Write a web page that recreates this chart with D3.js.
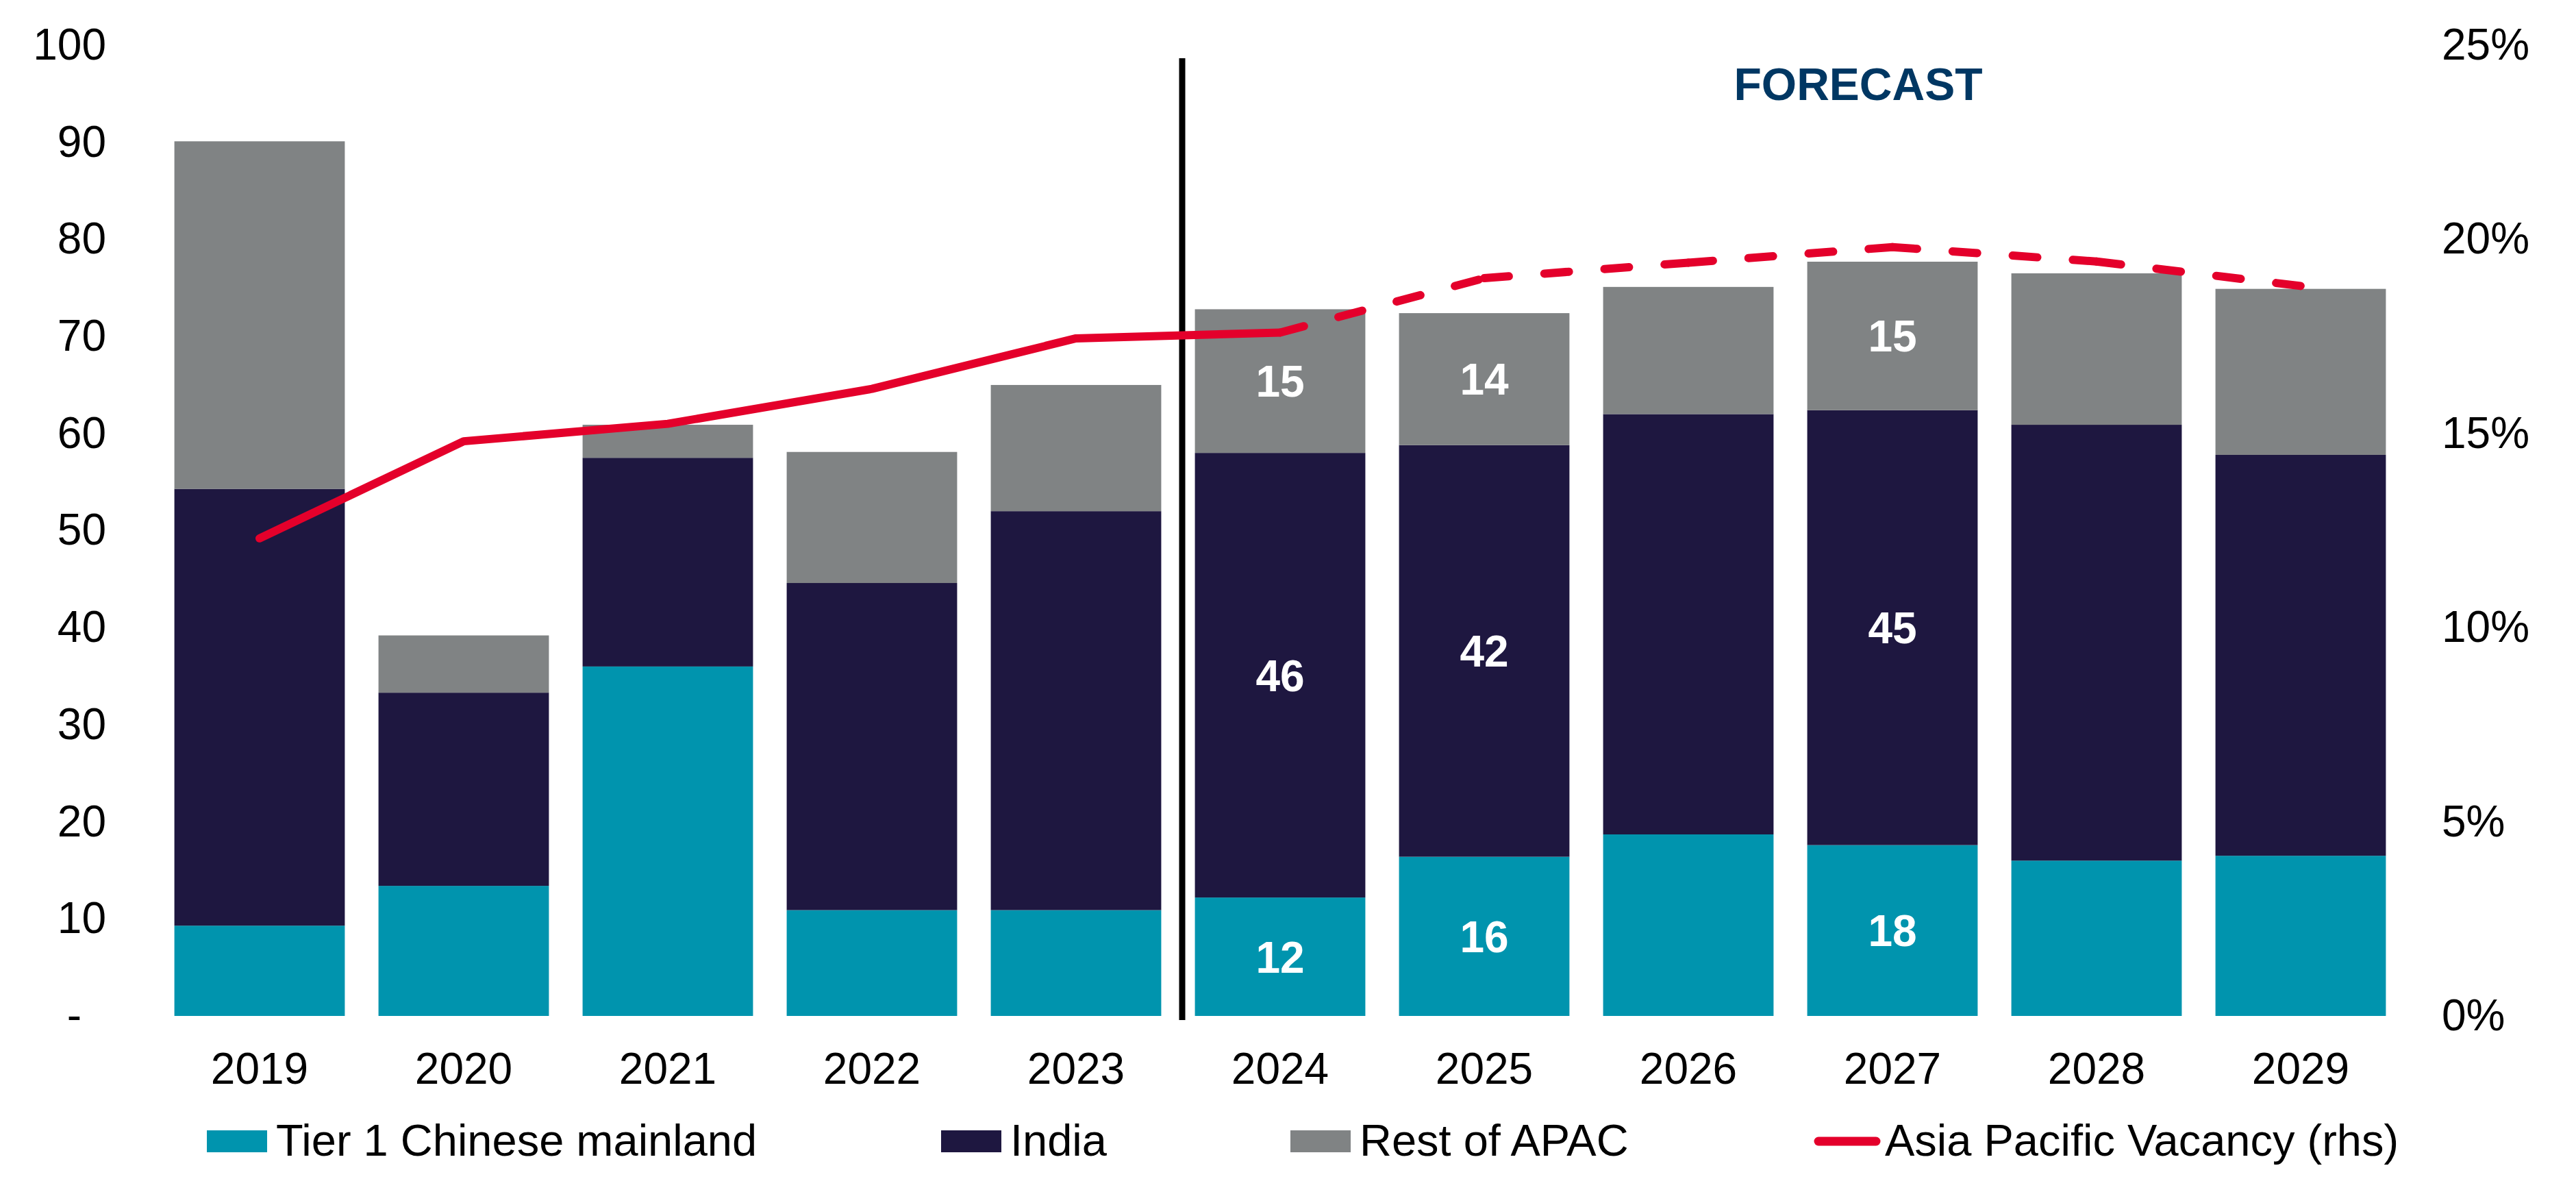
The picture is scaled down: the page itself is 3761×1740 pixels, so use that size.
<!DOCTYPE html>
<html>
<head>
<meta charset="utf-8">
<script src="https://cdn.jsdelivr.net/npm/d3@7"></script>
<style>
  html, body { margin: 0; padding: 0; background: #ffffff; }
  svg { display: block; font-family: "Liberation Sans", Arial, sans-serif; }
</style>
</head>
<body>
<svg id="chart" width="3761" height="1740"></svg>
<script>
// ---- data ----
const years = ["2019","2020","2021","2022","2023","2024","2025","2026","2027","2028","2029"];
const tier1China = [9.3, 13.4, 36.0, 10.9, 10.9, 12.2, 16.4, 18.7, 17.6, 16.0, 16.5];
const india      = [45.0, 19.9, 21.5, 33.7, 41.1, 45.8, 42.4, 43.3, 44.8, 44.9, 41.3];
const restAPAC   = [35.8, 5.9, 3.4, 13.5, 13.0, 14.8, 13.6, 13.1, 15.3, 15.6, 17.1];
const vacancy    = [0.123, 0.148, 0.1525, 0.1615, 0.1745, 0.176, 0.190, 0.194, 0.198, 0.1943, 0.188];
const labeledYears = ["2024", "2025", "2027"];
const forecastStart = "2024";
const leftTicks = [0,10,20,30,40,50,60,70,80,90,100];
const rightTicks = [0,0.05,0.10,0.15,0.20,0.25];
const seriesNames = ["Tier 1 Chinese mainland", "India", "Rest of APAC", "Asia Pacific Vacancy (rhs)"];

// ---- layout ----
const colors = { t1: "#0094AE", india: "#1E1740", rest: "#808384", line: "#E4002B", forecast: "#003763" };
const plotLeft = 230, plotRight = 3508, plotTop = 66, plotBottom = 1483;
const fontSize = 64;
const lineWidth = 12;

const svg = d3.select("#chart");

const x = d3.scaleBand().domain(years).range([plotLeft, plotRight]).paddingInner(0.165).paddingOuter(0.0825);
const y = d3.scaleLinear().domain([0, 100]).range([plotBottom, plotTop]);
const y2 = d3.scaleLinear().domain([0, 0.25]).range([plotBottom, plotTop]);

// stacked data
const rows = years.map((yr, i) => ({ year: yr, t1: tier1China[i], india: india[i], rest: restAPAC[i] }));
const keys = ["t1", "india", "rest"];
const stack = d3.stack().keys(keys)(rows);

const gBars = svg.append("g");
stack.forEach(layer => {
  gBars.append("g").attr("fill", colors[layer.key])
    .selectAll("rect").data(layer).join("rect")
    .attr("x", d => x(d.data.year))
    .attr("width", x.bandwidth())
    .attr("y", d => y(d[1]))
    .attr("height", d => y(d[0]) - y(d[1]));
});

// data labels
const gLab = svg.append("g");
stack.forEach(layer => {
  gLab.selectAll(null).data(layer.filter(d => labeledYears.includes(d.data.year))).join("text")
    .attr("x", d => x(d.data.year) + x.bandwidth() / 2)
    .attr("y", d => (y(d[0]) + y(d[1])) / 2)
    .attr("dy", "0.36em")
    .attr("text-anchor", "middle")
    .attr("fill", "#ffffff")
    .attr("font-weight", "bold")
    .attr("font-size", fontSize)
    .text(d => Math.round(d[1] - d[0]));
});

// vertical forecast divider
const iF = years.indexOf(forecastStart);
const divX = (x(years[iF - 1]) + x.bandwidth() + x(years[iF])) / 2 + 6;
svg.append("line")
  .attr("x1", divX).attr("x2", divX)
  .attr("y1", 85).attr("y2", 1489)
  .attr("stroke", "#000").attr("stroke-width", 9);

// FORECAST label
svg.append("text")
  .attr("x", 2713).attr("y", 146)
  .attr("text-anchor", "middle")
  .attr("font-weight", "bold")
  .attr("font-size", 66)
  .attr("fill", colors.forecast)
  .text("FORECAST");

// vacancy line
const pts = years.map((yr, i) => ({ year: yr, v: vacancy[i] }));
const line = d3.line().x(d => x(d.year) + x.bandwidth() / 2).y(d => y2(d.v));
svg.append("path")
  .datum(pts.slice(0, iF + 1))
  .attr("d", line)
  .attr("fill", "none").attr("stroke", colors.line)
  .attr("stroke-width", lineWidth).attr("stroke-linecap", "round").attr("stroke-linejoin", "round");
// dashed forecast: dash pattern restarts at each vertex
const gDash = svg.append("g");
for (let i = iF; i < pts.length - 1; i++) {
  gDash.append("path")
    .datum([pts[i], pts[i + 1]])
    .attr("d", line)
    .attr("fill", "none").attr("stroke", colors.line)
    .attr("stroke-width", lineWidth).attr("stroke-linecap", "round")
    .attr("stroke-dasharray", "36,52");
}

// left axis
const axL = svg.append("g")
  .attr("transform", `translate(${plotLeft},0)`)
  .call(d3.axisLeft(y).tickValues(leftTicks).tickSize(0).tickPadding(75)
    .tickFormat(d => d === 0 ? "-" : d3.format("d")(d)));
axL.select(".domain").remove();
axL.selectAll("text").attr("font-size", fontSize).attr("fill", "#000")
  .attr("font-family", "Liberation Sans, Arial, sans-serif");
axL.selectAll(".tick").filter(d => d === 0).select("text").attr("x", -(plotLeft - 119));

// right axis
const axR = svg.append("g")
  .attr("transform", `translate(${plotRight},0)`)
  .call(d3.axisRight(y2).tickValues(rightTicks).tickSize(0).tickPadding(57)
    .tickFormat(d3.format(".0%")));
axR.select(".domain").remove();
axR.selectAll("text").attr("font-size", fontSize).attr("fill", "#000")
  .attr("font-family", "Liberation Sans, Arial, sans-serif");

// x axis
const axX = svg.append("g")
  .attr("transform", `translate(0,${plotBottom})`)
  .call(d3.axisBottom(x).tickSize(0).tickPadding(54));
axX.select(".domain").remove();
axX.selectAll("text").attr("font-size", fontSize).attr("fill", "#000")
  .attr("font-family", "Liberation Sans, Arial, sans-serif");

// legend
const legendX = [302, 1374, 1884, 2648];
const legendSwatch = [colors.t1, colors.india, colors.rest, colors.line];
const legY = 1666;
const gLeg = svg.append("g");
seriesNames.forEach((name, i) => {
  if (i < 3) {
    gLeg.append("rect").attr("x", legendX[i]).attr("y", legY - 16)
      .attr("width", 88).attr("height", 32).attr("fill", legendSwatch[i]);
  } else {
    gLeg.append("line").attr("x1", legendX[i] + 7).attr("x2", legendX[i] + 91)
      .attr("y1", legY).attr("y2", legY)
      .attr("stroke", legendSwatch[i]).attr("stroke-width", 13).attr("stroke-linecap", "round");
  }
  gLeg.append("text")
    .attr("x", legendX[i] + (i < 3 ? 101 : 104))
    .attr("y", legY + 21)
    .attr("font-size", 65).attr("fill", "#000")
    .text(name);
});
</script>
</body>
</html>
